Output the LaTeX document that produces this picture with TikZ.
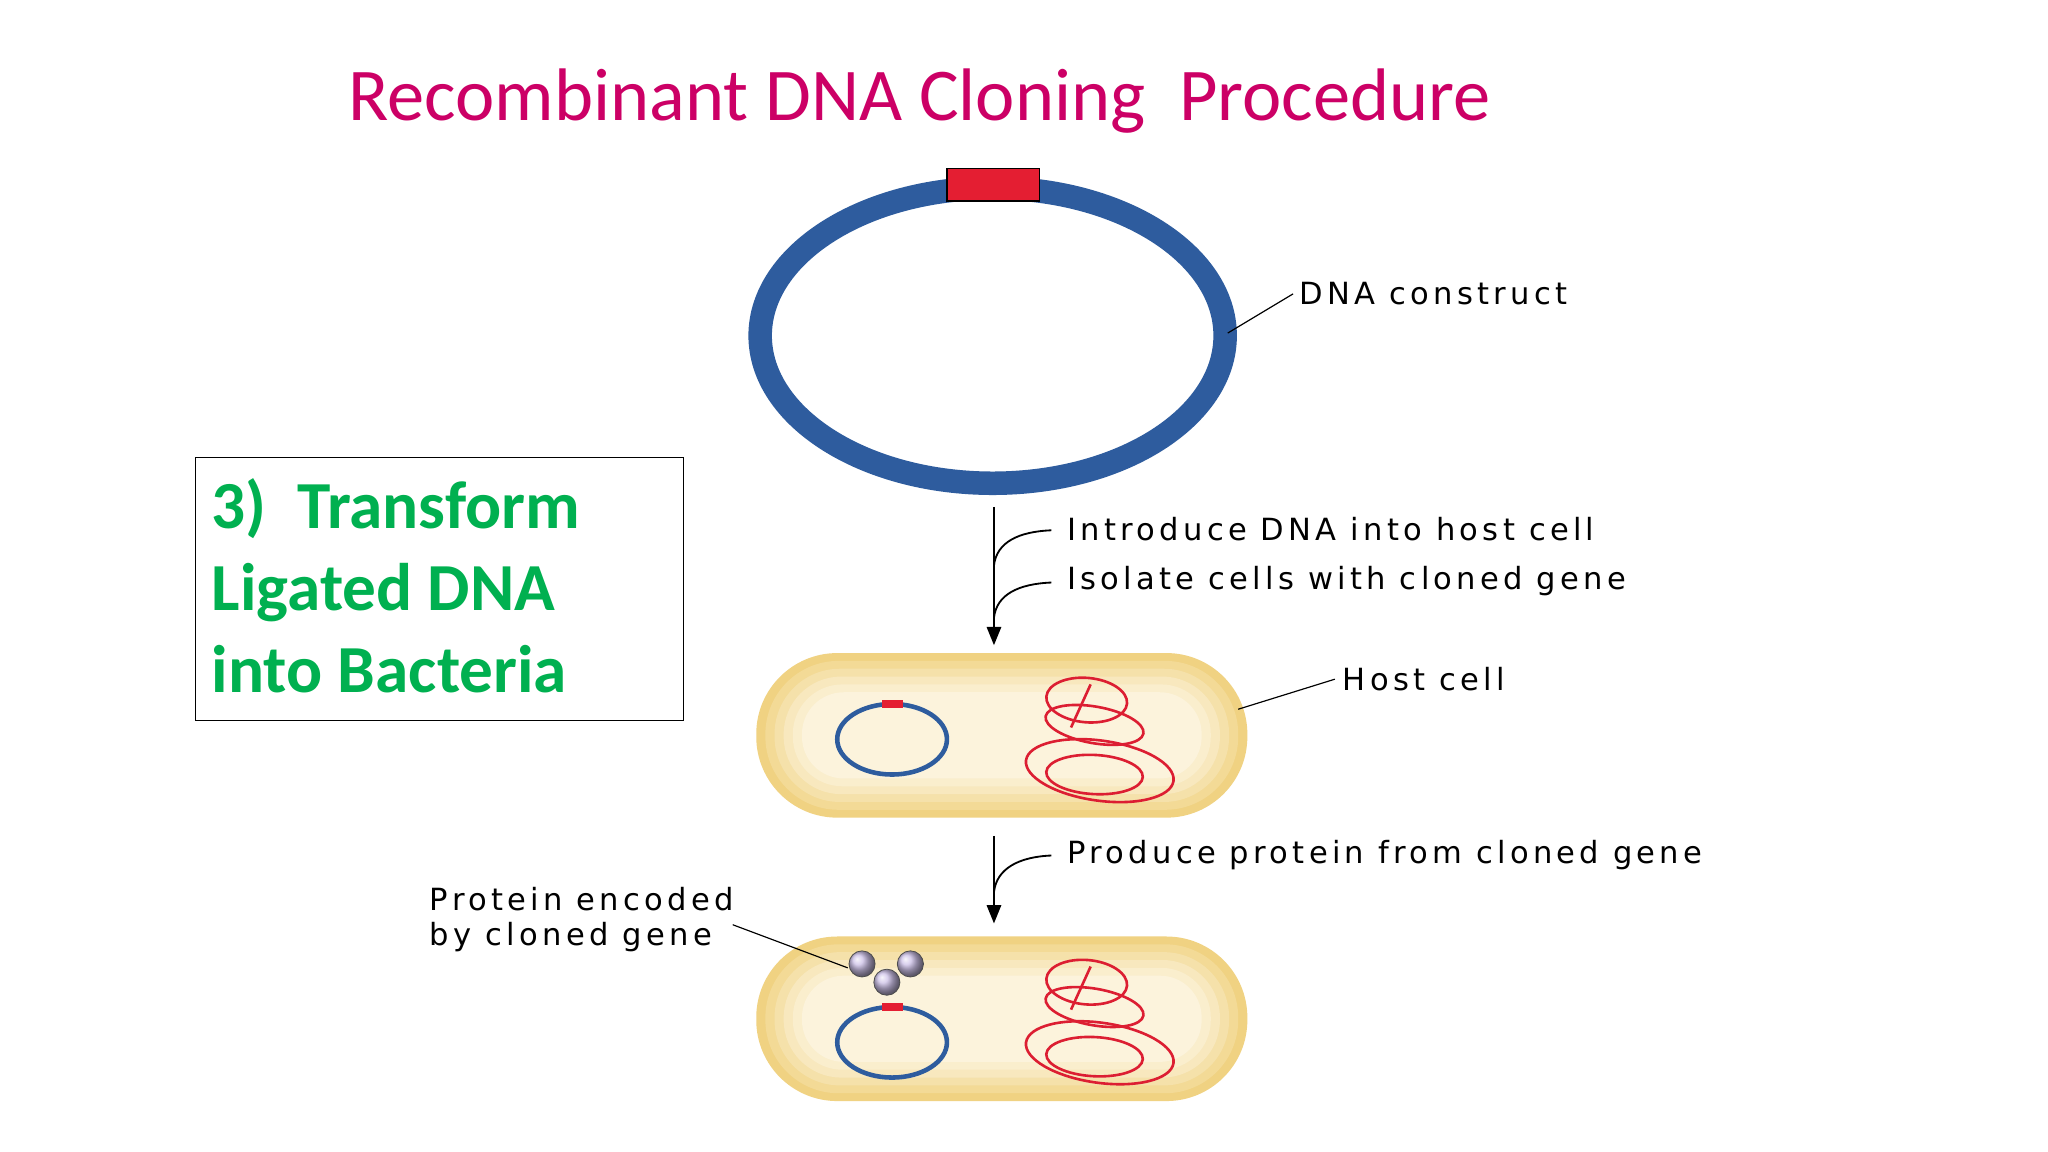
\documentclass[tikz,border=0pt]{standalone}
\usepackage{fontspec}
\setmainfont{Carlito}
\newfontfamily\lab[LetterSpace=14]{DejaVu Sans}
\usetikzlibrary{arrows.meta}
\definecolor{ttl}{RGB}{204,0,102}
\definecolor{grn}{RGB}{0,176,80}
\definecolor{dna}{RGB}{46,92,158}
\definecolor{rd}{RGB}{228,30,50}
\definecolor{coilc}{RGB}{220,30,50}
\definecolor{cellout}{RGB}{240,210,130}
\definecolor{cellin}{RGB}{253,247,230}
\definecolor{prot}{RGB}{170,150,215}
\tikzset{
 lbl/.style={font=\lab\fontsize{23.4}{27}\selectfont,anchor=west,inner sep=0},
 lead/.style={black,line width=0.9pt},
 flow/.style={black,line width=1.4pt},
 coil/.style={coilc,line width=2pt},
 ring/.style={dna,line width=3.5pt}
}
\newcommand{\mycell}[2]{%
 \foreach \i/\c/\r in {0/0/62,1/20/56,2/40/50,3/60/44,4/75/38,5/90/32}{
  \fill[cellin!\c!cellout,rounded corners=\r pt] (#1-188+\i*7,#2-63+\i*6) rectangle (#1+188-\i*7,#2+63-\i*6);
 }
}
\newcommand{\mycoil}[2]{%
 \begin{scope}[shift={(#1,#2)}]
 \draw[coil] (-8,-31) ellipse [x radius=31,y radius=17,rotate=-5];
 \draw[coil] (-2,-12) ellipse [x radius=38,y radius=14,rotate=-10];
 \draw[coil] (2,23) ellipse [x radius=57,y radius=23,rotate=-8];
 \draw[coil] (-2,26) ellipse [x radius=37,y radius=15,rotate=-3];
 \draw[coil] (-5,-43) -- (-20,-10);
 \end{scope}
}
\begin{document}
\begin{tikzpicture}[x=1pt,y=-1pt]
\useasboundingbox[fill=white] (0,0) rectangle (1568,882);
\node[ttl,font=\fontsize{57}{64}\selectfont] (title) at (704,77) {Recombinant DNA Cloning\ \ Procedure};
% big construct
\draw[dna,line width=18pt] (760,257) ellipse [x radius=178,y radius=113];
\draw[fill=rd,draw=black,line width=1pt] (725,129) rectangle (796,154);
\node[lbl] (dc) at (995,225) {DNA construct};
\coordinate (dcp) at (940,255);
\draw[lead] (dcp) -- ([xshift=-5]dc.west);
% box
\node[draw=black,line width=0.8pt,minimum width=374,minimum height=201,anchor=north west] (box) at (149,350) {};
\node[grn,font=\bfseries\fontsize{51.5}{63}\selectfont,align=left,anchor=north west,inner sep=0] (boxt) at (162,366) {3)\ \ Transform\\Ligated DNA\\into Bacteria};
% arrow 1
\coordinate (a1s) at (761,388);
\coordinate (a1e) at (761,494);
\draw[flow,-{Triangle[length=14pt,width=11pt]}] (a1s) -- (a1e);
\node[lbl] (t1) at (817,405) {Introduce DNA into host cell};
\node[lbl] (t2) at (817,445) {Isolate cells with cloned gene};
\draw[flow] (761,433) .. controls (763,415) and (780,407) .. (805,406);
\draw[flow] (761,473) .. controls (763,455) and (780,447) .. (805,446);
% cell 1
\mycell{767}{563}
\draw[ring] (683,566) ellipse [x radius=42,y radius=27];
\fill[rd] (675,536) rectangle (691,542);
\mycoil{840}{567}
\node[lbl] (hc) at (1028,520) {Host cell};
\draw[lead] (948,543) -- ([xshift=-6]hc.west);
% arrow 2
\draw[flow,-{Triangle[length=14pt,width=11pt]}] (761,640) -- (761,707);
\draw[flow] (761,683) .. controls (763,665) and (780,656) .. (805,655);
\node[lbl] (t3) at (817,655) {Produce protein from cloned gene};
% cell 2
\mycell{767}{780}
\draw[ring] (683,798) ellipse [x radius=42,y radius=27];
\fill[rd] (675,768) rectangle (691,774);
\mycoil{840}{783}
\foreach \n/\x/\y in {p1/660/738,p2/697/738,p3/679/752}{
 \shade[ball color=prot!60!white,draw=black!70,line width=0.6pt] (\x,\y) circle (10);
 \coordinate (\n) at (\x,\y);
}
\node[lbl,align=left,anchor=north west] (pe) at (329,679) {Protein encoded\\by cloned gene};
\draw[lead] (561,708) -- ([xshift=-11,yshift=-3]p1);
\end{tikzpicture}
\end{document}
